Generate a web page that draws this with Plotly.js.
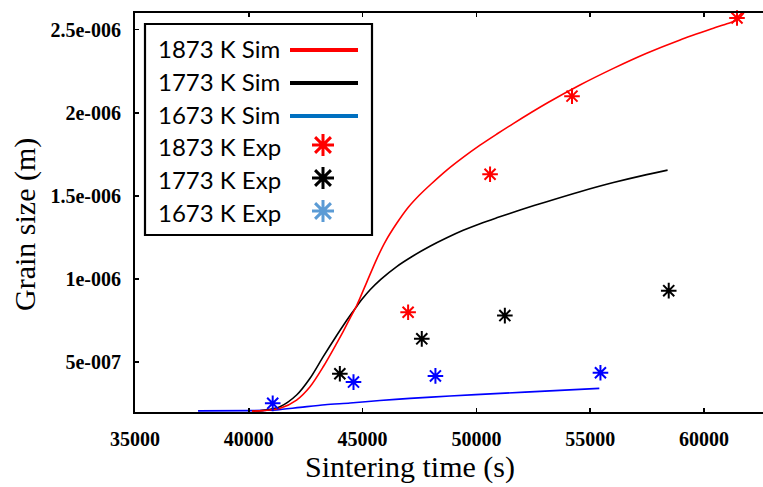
<!DOCTYPE html>
<html>
<head>
<meta charset="utf-8">
<script src="https://cdn.plot.ly/plotly-3.0.1.min.js"></script>
<style>html,body{margin:0;padding:0;background:#fff;}#chart{width:763px;height:487px;}</style>
</head>
<body>
<div id="chart"></div>
<script>
// ---- data (time in s, grain size in m) ----
const sim1873T = [40140, 40640, 41370, 42100, 42690, 43270, 43860, 44150, 44450, 44740, 45180, 45620, 46000, 46500, 47000, 47500, 48000, 48700, 49400, 50160, 50900, 51620, 53090, 54550, 56020, 57480, 58950, 60410, 61000, 61450, 61750];
const sim1873G = [2.05e-7, 2.08e-7, 2.22e-7, 2.72e-7, 3.52e-7, 4.72e-7, 6.13e-7, 6.85e-7, 7.65e-7, 8.4e-7, 9.8e-7, 1.12e-6, 1.225e-6, 1.335e-6, 1.43e-6, 1.505e-6, 1.57e-6, 1.655e-6, 1.73e-6, 1.805e-6, 1.872e-6, 1.935e-6, 2.057e-6, 2.167e-6, 2.267e-6, 2.358e-6, 2.438e-6, 2.508e-6, 2.535e-6, 2.558e-6, 2.6e-6];

const sim1773T = [40140, 40640, 41370, 42100, 42690, 43270, 43860, 44150, 44450, 44740, 45000, 45330, 45800, 46500, 47230, 47960, 48700, 49420, 50160, 50890, 51920, 53090, 54550, 56020, 57480, 58400];
const sim1773G = [2.05e-7, 2.1e-7, 2.32e-7, 3.02e-7, 4.03e-7, 5.33e-7, 6.6e-7, 7.2e-7, 7.8e-7, 8.35e-7, 8.82e-7, 9.35e-7, 9.98e-7, 1.075e-6, 1.14e-6, 1.197e-6, 1.248e-6, 1.293e-6, 1.333e-6, 1.368e-6, 1.415e-6, 1.465e-6, 1.525e-6, 1.58e-6, 1.628e-6, 1.655e-6];

const sim1673T = [37770, 40050, 40710, 41230, 42250, 43350, 44450, 45760, 47080, 48840, 51040, 53230, 55400];
const sim1673G = [2.07e-7, 2.08e-7, 2.10e-7, 2.13e-7, 2.28e-7, 2.44e-7, 2.54e-7, 2.69e-7, 2.82e-7, 2.96e-7, 3.12e-7, 3.27e-7, 3.42e-7];

const exp1873T = [47000, 50600, 54200, 61450];
const exp1873G = [8.0e-7, 1.63e-6, 2.10e-6, 2.57e-6];
const exp1773T = [44000, 47600, 51250, 58450];
const exp1773G = [4.3e-7, 6.4e-7, 7.8e-7, 9.3e-7];
const exp1673T = [41050, 44600, 48200, 55450];
const exp1673G = [2.52e-7, 3.8e-7, 4.17e-7, 4.36e-7];

const xTickVals = [35000, 40000, 45000, 50000, 55000, 60000];
const yTickVals = [5e-7, 1e-6, 1.5e-6, 2e-6, 2.5e-6];
const yTickText = ['5e-007', '1e-006', '1.5e-006', '2e-006', '2.5e-006'];

const legendLabels = ['1873 K Sim', '1773 K Sim', '1673 K Sim', '1873 K Exp', '1773 K Exp', '1673 K Exp'];

// ---- geometry helpers (pixel -> paper) ----
const W = 763, H = 487, ML = 135, MR = 0, MT = 13, MB = 75;
const PW = W - ML - MR, PH = H - MT - MB;
const px = x => (x - ML) / PW;
const py = y => (H - MB - y) / PH;

const RED = '#ff0000', BLK = '#000000', BLU = '#0000ff';
const SERIF = 'Liberation Serif, Times New Roman, serif';
const SANS = 'Lato, Open Sans, sans-serif';

function simTrace(x, y, c) {
  return {x: x, y: y, type: 'scatter', mode: 'lines', line: {color: c, width: 1.6, shape: 'spline', smoothing: 0.8}, showlegend: false, hoverinfo: 'skip'};
}
function expTrace(x, y, c) {
  return {x: x, y: y, type: 'scatter', mode: 'markers', cliponaxis: false,
    marker: {symbol: 'asterisk-open', size: 13, color: c, line: {color: c, width: 2}}, showlegend: false, hoverinfo: 'skip'};
}

const data = [
  simTrace(sim1673T, sim1673G, BLU),
  simTrace(sim1773T, sim1773G, BLK),
  simTrace(sim1873T, sim1873G, RED),
  expTrace(exp1873T, exp1873G, RED),
  expTrace(exp1773T, exp1773G, BLK),
  expTrace(exp1673T, exp1673G, BLU)
];

// ---- hand-built legend (text left, key right) ----
const shapes = [];
const annotations = [];
shapes.push({type: 'rect', xref: 'paper', yref: 'paper', x0: px(145), x1: px(372), y0: py(24), y1: py(235),
  line: {color: '#000', width: 2.2}, fillcolor: '#fff', layer: 'above'});
const rowY = [48, 81, 114, 146, 179, 212];
const lineCols = ['#ff0000', '#000000', '#0070c0'];
const starCols = ['#ff0000', '#000000', '#5b9bd5'];
legendLabels.forEach((t, i) => {
  annotations.push({xref: 'paper', yref: 'paper', x: px(156), y: py(rowY[i]), xanchor: 'left', yanchor: 'middle',
    text: t, showarrow: false, font: {family: SANS, size: 24, color: '#000'}});
});
for (let i = 0; i < 3; i++) {
  const yy = rowY[i] + 2;
  shapes.push({type: 'line', xref: 'paper', yref: 'paper', x0: px(290), x1: px(358), y0: py(yy), y1: py(yy),
    line: {color: lineCols[i], width: 4}, layer: 'above'});
}
for (let i = 0; i < 3; i++) {
  const cx = 323, cy = rowY[i + 3] - 1, r = 11, d = r * 0.72;
  const P = (x, y) => px(x) + ',' + py(y);
  const path = 'M' + P(cx - r, cy) + 'L' + P(cx + r, cy) +
    'M' + P(cx, cy - r) + 'L' + P(cx, cy + r) +
    'M' + P(cx - d, cy - d) + 'L' + P(cx + d, cy + d) +
    'M' + P(cx - d, cy + d) + 'L' + P(cx + d, cy - d);
  shapes.push({type: 'path', xref: 'paper', yref: 'paper', path: path, line: {color: starCols[i], width: 3}, layer: 'above'});
}

// axis titles
annotations.push({xref: 'paper', yref: 'paper', x: px(410), y: py(467), xanchor: 'center', yanchor: 'middle',
  text: 'Sintering time (s)', showarrow: false, font: {family: SERIF, size: 30, color: '#000'}});
annotations.push({xref: 'paper', yref: 'paper', x: px(25), y: py(225), xanchor: 'center', yanchor: 'middle', textangle: -90,
  text: 'Grain size (m)', showarrow: false, font: {family: SERIF, size: 30, color: '#000'}});

const tickFont = {family: SERIF, size: 20, color: '#000', weight: 'bold'};

const layout = {
  width: W, height: H,
  margin: {l: ML, r: MR, t: MT, b: MB, pad: 0},
  paper_bgcolor: '#fff', plot_bgcolor: '#fff',
  showlegend: false,
  xaxis: {range: [35000, 62592], tickvals: xTickVals, ticktext: xTickVals.map(String),
    showline: true, linecolor: '#000', linewidth: 2, mirror: 'allticks',
    ticks: 'inside', ticklen: 4, tickwidth: 1.5, tickcolor: '#000',
    showgrid: false, zeroline: false, tickfont: tickFont, ticklabelstandoff: 8},
  yaxis: {range: [2e-7, 2.6e-6], tickvals: yTickVals, ticktext: yTickText,
    showline: true, linecolor: '#000', linewidth: 2, mirror: false,
    ticks: 'inside', ticklen: 4, tickwidth: 1.5, tickcolor: '#000',
    showgrid: false, zeroline: false, tickfont: tickFont, ticklabelstandoff: 8},
  shapes: shapes,
  annotations: annotations
};

Plotly.newPlot('chart', data, layout, {displayModeBar: false, staticPlot: true});
</script>
</body>
</html>
